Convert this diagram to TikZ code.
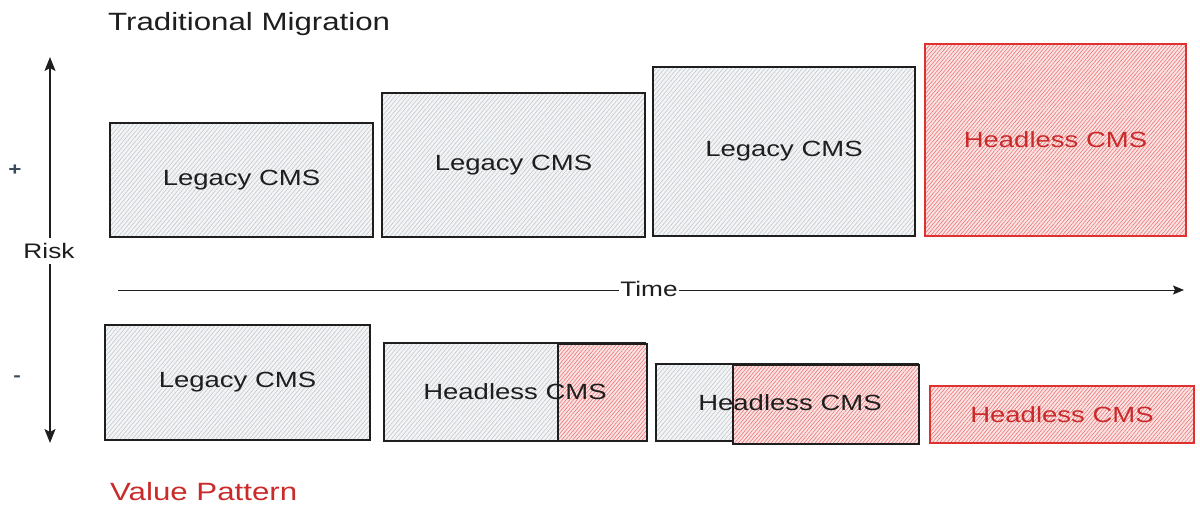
\documentclass[tikz,border=0pt]{standalone}
\usepackage{fontspec}
\setmainfont{Liberation Sans}[FakeStretch=1.25]
\usetikzlibrary{patterns.meta,arrows.meta}
\definecolor{ink}{HTML}{1E1E1E}
\definecolor{grayfill}{HTML}{F3F4F5}
\definecolor{grayhatch}{HTML}{BDC3C9}
\definecolor{redstroke}{HTML}{E03131}
\definecolor{redfill}{HTML}{FCE3E3}
\definecolor{redhatch}{HTML}{EB6F6F}
\definecolor{redtext}{HTML}{C92A2A}
\definecolor{signcol}{HTML}{3B4A5A}
\tikzset{
  box/.style={draw, line width=1.3pt, inner sep=0pt, outer sep=0pt},
  graybox/.style={box, draw=ink, preaction={fill=grayfill},
    pattern={Lines[angle=50,distance=3.2pt,line width=0.5pt]}, pattern color=grayhatch},
  redbox/.style={box, draw=redstroke, preaction={fill=redfill},
    pattern={Lines[angle=50,distance=2.8pt,line width=0.55pt]}, pattern color=redhatch},
  lbl/.style={font=\fontsize{22}{26}\selectfont, text=ink, inner sep=0pt},
  redlbl/.style={lbl, text=redtext},
  titlelbl/.style={font=\fontsize{25}{30}\selectfont, text=ink, inner sep=0pt},
  axislbl/.style={font=\fontsize{21}{25}\selectfont, text=ink, fill=white},
  axis/.style={draw=ink, line width=1.3pt},
  tip/.style={-{Stealth[length=14pt,width=11pt,inset=3pt]}}
}
\begin{document}
\begin{tikzpicture}[x=1pt,y=-1pt]
\useasboundingbox (0,0) rectangle (1200,517);

% titles
\node[titlelbl, anchor=west] (title) at (108,24) {Traditional Migration};
\node[titlelbl, text=redtext, anchor=west] (value) at (110,492) {Value Pattern};

% risk axis
\node[axislbl, inner xsep=1pt, inner ysep=5pt] (risk) at (49,251) {Risk};
\coordinate (ytop) at (50,57);
\coordinate (ybot) at (50,443);
\draw[axis, tip] (risk.north -| ytop) -- (ytop);
\draw[axis, tip] (risk.south -| ybot) -- (ybot);
\node[font=\fontsize{18}{22}\selectfont\bfseries, text=signcol] (plus) at (15,170) {+};
\node[font=\fontsize{18}{22}\selectfont\bfseries, text=signcol] (minus) at (17,379) {-};

% time axis
\node[axislbl, inner xsep=1pt, inner ysep=2pt] (time) at (649,289) {Time};
\coordinate (tstart) at (118,290);
\coordinate (tend) at (1184,290);
\draw[axis, line width=1pt] (tstart) -- (time.west |- tstart);
\draw[axis, line width=1pt, -{Stealth[length=11pt,width=9pt,inset=2pt]}] (time.east |- tend) -- (tend);

% top row
\node[graybox, minimum width=263pt, minimum height=114pt] (t1) at (241.5,180) {};
\node[lbl] (t1l) at (t1.center) {Legacy CMS};
\node[graybox, minimum width=263pt, minimum height=144pt] (t2) at (513.5,165) {};
\node[lbl] (t2l) at (t2.center) {Legacy CMS};
\node[graybox, minimum width=262pt, minimum height=169pt] (t3) at (784,151.5) {};
\node[lbl] (t3l) at (t3.center) {Legacy CMS};
\node[redbox, minimum width=261pt, minimum height=192pt] (t4) at (1055.5,140) {};
\node[redlbl] (t4l) at (t4.center) {Headless CMS};

% bottom row
\node[graybox, minimum width=265pt, minimum height=115pt] (b1) at (237.5,382.5) {};
\node[lbl] (b1l) at (b1.center) {Legacy CMS};

\node[graybox, minimum width=261pt, minimum height=98pt] (b2) at (514.5,392) {};
\node[redbox, draw=ink, minimum width=89pt, minimum height=97pt] (b2r) at (602.5,392.5) {};
\node[lbl] (b2l) at (515,392) {Headless CMS};

\node[graybox, minimum width=262pt, minimum height=77pt] (b3) at (787,402.5) {};
\node[redbox, draw=ink, minimum width=186pt, minimum height=79pt] (b3r) at (826,404.5) {};
\node[lbl] (b3l) at (790,403) {Headless CMS};

\node[redbox, minimum width=264pt, minimum height=57pt] (b4) at (1062,414.5) {};
\node[redlbl] (b4l) at (b4.center) {Headless CMS};
\end{tikzpicture}
\end{document}
